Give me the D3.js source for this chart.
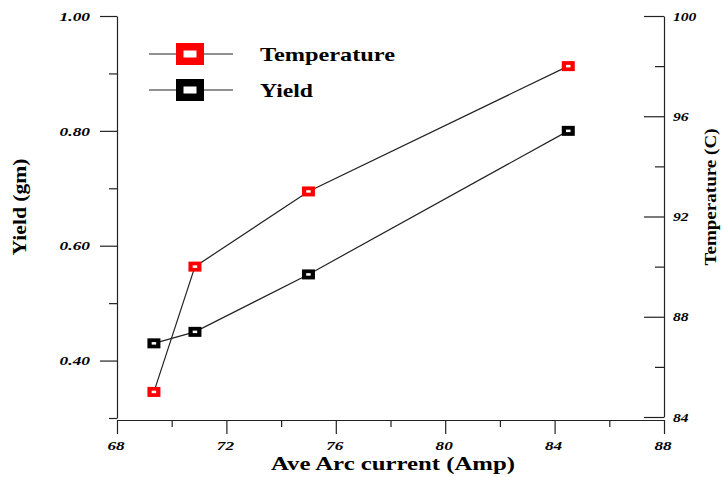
<!DOCTYPE html>
<html>
<head>
<meta charset="utf-8">
<script src="https://cdn.jsdelivr.net/npm/d3@7"></script>
<style>
  html, body { margin: 0; padding: 0; background: #fff; }
  svg { display: block; }
  text { font-family: "Liberation Serif", "Times New Roman", serif; fill: #000; }
</style>
</head>
<body>
<svg id="chart" width="722" height="477"></svg>
<script>
// ---- data ----
const arcCurrent = [69.35, 70.85, 75.0, 84.5];
const temperature = [85.0, 90.0, 93.0, 98.0];
const yieldGm = [0.43, 0.45, 0.55, 0.80];
const xTicks = [68, 72, 76, 80, 84, 88];
const xMinor = [70, 74, 78, 82, 86];
const yLeftTicks = [0.40, 0.60, 0.80, 1.00];
const yLeftMinor = [0.30, 0.50, 0.70, 0.90];
const yRightTicks = [84, 88, 92, 96, 100];
const yRightMinor = [86, 90, 94, 98];
const seriesNames = ["Temperature", "Yield"];
const seriesColors = ["#ff0000", "#000000"];

const svg = d3.select("#chart");

const x = d3.scaleLinear().domain([68, 88]).range([117, 664]);
const yL = d3.scaleLinear().domain([0.30, 1.00]).range([418, 16]);
const yR = d3.scaleLinear().domain([84, 100]).range([417, 16]);

function styleAxis(g) {
  g.selectAll("path.domain").attr("stroke", "#222").attr("stroke-width", 1.2);
  g.selectAll(".tick line").attr("stroke", "#222").attr("stroke-width", 1.2);
  g.selectAll(".tick text")
    .attr("font-family", "Liberation Serif, serif")
    .attr("font-weight", "bold")
    .attr("font-style", "italic")
    .attr("font-size", 13)
    .attr("fill", "#000");
}
function stretch(sel, perChar) {
  sel.each(function () {
    const t = d3.select(this);
    const s = t.text();
    let w = 0;
    for (const c of s) w += (c === ".") ? 4 : perChar;
    t.attr("textLength", w).attr("lengthAdjust", "spacingAndGlyphs");
  });
}

// left axis
const gL = svg.append("g").attr("transform", "translate(117,0)")
  .call(d3.axisLeft(yL).tickValues(yLeftTicks).tickSize(17).tickSizeOuter(0)
    .tickPadding(10).tickFormat(d3.format(".2f")));
styleAxis(gL);
stretch(gL.selectAll(".tick text"), 8.8);
const gLm = svg.append("g").attr("transform", "translate(117,0)")
  .call(d3.axisLeft(yL).tickValues(yLeftMinor).tickSize(8).tickFormat(""));
gLm.select("path.domain").remove();
styleAxis(gLm);

// right axis (ticks inward)
const gR = svg.append("g").attr("transform", "translate(664,0)")
  .call(d3.axisRight(yR).tickValues(yRightTicks).tickSize(-20).tickSizeOuter(0)
    .tickPadding(9).tickFormat(d3.format("d")));
styleAxis(gR);
stretch(gR.selectAll(".tick text"), 7.8);
const gRm = svg.append("g").attr("transform", "translate(664,0)")
  .call(d3.axisRight(yR).tickValues(yRightMinor).tickSize(-9).tickFormat(""));
gRm.select("path.domain").remove();
styleAxis(gRm);

// bottom axis
const gB = svg.append("g").attr("transform", "translate(0,420)")
  .call(d3.axisBottom(x).tickValues(xTicks).tickSize(14).tickSizeOuter(0)
    .tickPadding(7).tickFormat(d3.format("d")));
styleAxis(gB);
stretch(gB.selectAll(".tick text"), 8.6);
gB.selectAll(".tick text").attr("dx", -1.5);
const gBm = svg.append("g").attr("transform", "translate(0,420)")
  .call(d3.axisBottom(x).tickValues(xMinor).tickSize(7).tickFormat(""));
gBm.select("path.domain").remove();
styleAxis(gBm);

// titles
svg.append("text").attr("x", 393).attr("y", 470).attr("text-anchor", "middle")
  .attr("font-weight", "bold").attr("font-size", 19.5)
  .attr("textLength", 244).attr("lengthAdjust", "spacingAndGlyphs")
  .text("Ave Arc current (Amp)");
svg.append("text").attr("transform", "translate(26,207) rotate(-90)")
  .attr("text-anchor", "middle").attr("font-weight", "bold").attr("font-size", 18)
  .attr("textLength", 97).attr("lengthAdjust", "spacingAndGlyphs")
  .text("Yield (gm)");
svg.append("text").attr("transform", "translate(716,197) rotate(-90)")
  .attr("text-anchor", "middle").attr("font-weight", "bold").attr("font-size", 16.5)
  .attr("textLength", 137).attr("lengthAdjust", "spacingAndGlyphs")
  .text("Temperature (C)");

// series
const tempPts = arcCurrent.map((c, i) => [x(c), yR(temperature[i])]);
const yieldPts = arcCurrent.map((c, i) => [x(c), yL(yieldGm[i])]);
const line = d3.line();
[tempPts, yieldPts].forEach(pts => {
  svg.append("path").attr("d", line(pts)).attr("fill", "none")
    .attr("stroke", "#222").attr("stroke-width", 1.2);
});
function marker(g, cx, cy, w, h, iw, ih, color) {
  g.append("rect").attr("x", cx - w / 2).attr("y", cy - h / 2)
    .attr("width", w).attr("height", h).attr("fill", color);
  g.append("rect").attr("x", cx - iw / 2).attr("y", cy - ih / 2)
    .attr("width", iw).attr("height", ih).attr("fill", "#fff");
}
const gm = svg.append("g");
tempPts.forEach(p => marker(gm, p[0], p[1], 13, 10, 4.5, 2.5, seriesColors[0]));
yieldPts.forEach(p => marker(gm, p[0], p[1], 13, 10, 4.5, 2.5, seriesColors[1]));

// legend
const legY = [54, 90];
const legW = [135, 53];
seriesNames.forEach((name, i) => {
  const y0 = legY[i];
  svg.append("line").attr("x1", 149).attr("x2", 233).attr("y1", y0).attr("y2", y0)
    .attr("stroke", "#222").attr("stroke-width", 1.2);
  marker(svg, 190, y0, 28, 22, 13, 7, seriesColors[i]);
  svg.append("text").attr("x", 260).attr("y", y0 + 6.5)
    .attr("font-weight", "bold").attr("font-size", 19)
    .attr("textLength", legW[i]).attr("lengthAdjust", "spacingAndGlyphs")
    .text(name);
});
</script>
</body>
</html>
